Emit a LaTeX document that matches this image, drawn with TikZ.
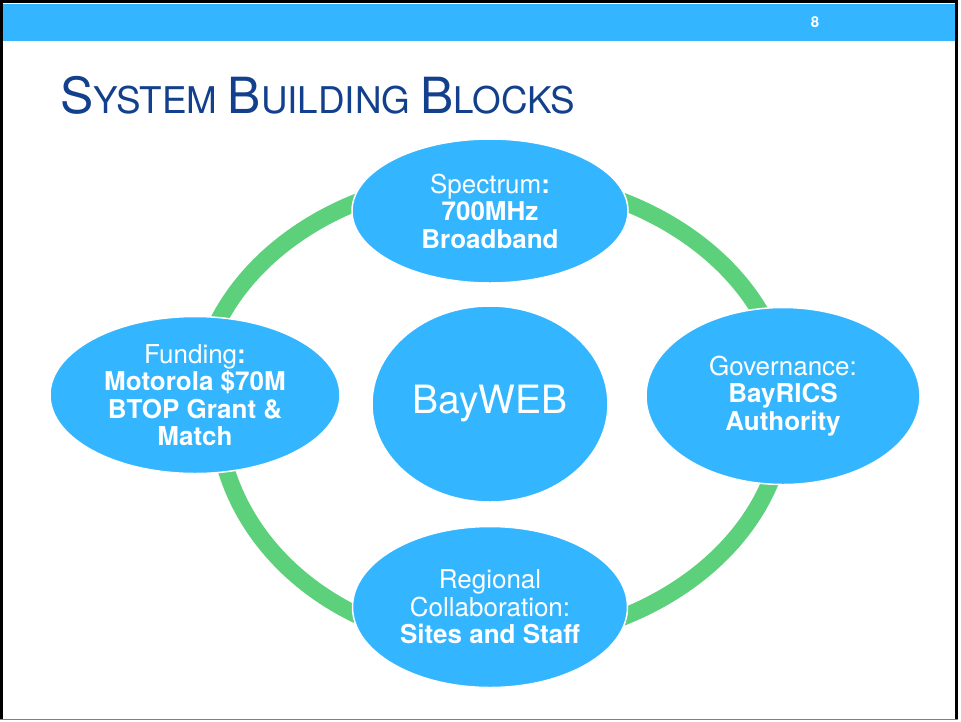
\documentclass[tikz,border=0pt]{standalone}
\usepackage{fontspec}
\setmainfont{TeX Gyre Heros}
\usetikzlibrary{shapes.geometric}
\definecolor{barblue}{RGB}{51,182,255}
\definecolor{ringgreen}{RGB}{92,208,122}
\definecolor{titleblue}{RGB}{18,64,140}
\tikzset{
  blob/.style={ellipse, fill=barblue, draw=white, line width=1.5pt, inner sep=0pt,
    text=white, align=center, font=\fontsize{26}{27.5}\selectfont},
  ringseg/.style={draw=ringgreen, line width=17pt, line cap=butt, variable=\t, samples=80}
}
\begin{document}
\begin{tikzpicture}[x=1pt,y=-1pt]
\useasboundingbox (0,0) rectangle (961,721);
\fill[white] (0,0) rectangle (961,721);
% top bar
\fill[barblue] (2.5,3.5) rectangle (956,41);
\node[text=white, font=\fontsize{15}{15}\selectfont\bfseries] (pnum) at (815,22) {8};
% frame
\draw[black, line width=3pt] (1.5,720) -- (1.5,1.5) -- (956.5,1.5) -- (956.5,720);
\draw[gray, line width=1.5pt] (0,719.5) -- (958,719.5);
% title
\node[anchor=base west, inner sep=0pt, text=titleblue] (title) at (60,113)
  {\fontsize{49.8}{49}\selectfont S\fontsize{36.8}{36}\selectfont YSTEM \fontsize{49.8}{49}\selectfont B\fontsize{36.8}{36}\selectfont UILDING \fontsize{49.8}{49}\selectfont B\fontsize{36.8}{36}\selectfont LOCKS};
% ring (four quarter arcs, ends hidden under the blocks)
\coordinate (rc) at (489,409);
\draw[ringseg, domain=-2:92]  plot ({489+296.1*cos(\t)},{409+233.3*sin(\t)});
\draw[ringseg, domain=88:182] plot ({489+272*cos(\t)},{409+235.6*sin(\t)});
\draw[ringseg, domain=178:272] plot ({489+292.6*cos(\t)},{409+231.8*sin(\t)});
\draw[ringseg, domain=268:362] plot ({489+298.6*cos(\t)},{409+232.3*sin(\t)});
% blocks
\node[blob, minimum width=276pt, minimum height=144pt] (spec) at (490,211)
  {Spectrum\textbf{:}\\\textbf{700MHz}\\\textbf{Broadband}};
\node[blob, minimum width=274pt, minimum height=177pt] (gov) at (783,396)
  {Governance:\\\textbf{BayRICS}\\\textbf{Authority}};
\node[blob, minimum width=290pt, minimum height=157pt] (fund) at (195,395)
  {Funding\textbf{:}\\\textbf{Motorola \$70M}\\\textbf{BTOP Grant \&}\\\textbf{Match}};
\node[blob, minimum width=275pt, minimum height=161pt] (reg) at (490,607)
  {Regional\\Collaboration:\\\textbf{Sites and Staff}};
\node[blob, minimum width=236pt, minimum height=196pt, font=\fontsize{39}{39}\selectfont] (bay) at (490,404)
  {BayWEB};
\end{tikzpicture}
\end{document}
